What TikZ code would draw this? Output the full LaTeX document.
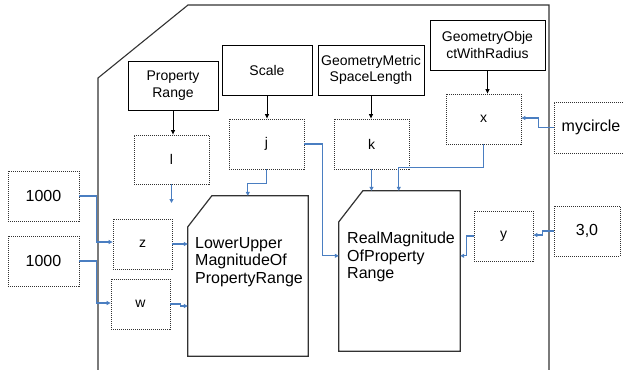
\documentclass[tikz,border=0pt]{standalone}
\usepackage{fontspec}
\setmainfont{Liberation Sans}
\usetikzlibrary{arrows.meta,calc}
\definecolor{linkblue}{RGB}{74,126,193}
\definecolor{darkline}{RGB}{50,50,50}
\begin{document}
\begin{tikzpicture}[x=1pt,y=-1pt,
  solidbox/.style={draw=black,line width=0.9pt,inner sep=0pt,align=center,font=\fontsize{14}{16.5}\selectfont},
  dotbox/.style={draw=darkline,line width=0.8pt,dash pattern=on 1pt off 1pt,inner sep=0pt,align=center,font=\fontsize{14}{16.5}\selectfont},
  bigtext/.style={font=\fontsize{16}{17.5}\selectfont},
  docshape/.style={draw=darkline,line width=1.2pt},
  outerline/.style={draw=darkline,line width=1.1pt},
  bl/.style={draw=linkblue,line width=1.1pt,-{Triangle[length=4pt,width=4pt]}},
  blk/.style={draw=black,line width=1pt,-{Triangle[length=4.5pt,width=4pt]}}]
\useasboundingbox (0,0) rectangle (623,369);
% outer frame
\draw[outerline] (98,375) -- (98,78) -- (188,5) -- (549,5) -- (549,375);
% solid boxes
\node[solidbox,minimum width=90pt,minimum height=49pt] (pr) at (173,85.5) {Property\\Range};
\node[solidbox,minimum width=90pt,minimum height=50pt] (sc) at (267,70) {Scale};
\node[solidbox,minimum width=106pt,minimum height=50pt] (gm) at (371,70) {GeometryMetric\\SpaceLength};
\node[solidbox,minimum width=115pt,minimum height=50pt] (go) at (487.5,45) {GeometryObje\\ctWithRadius};
% dotted boxes
\node[dotbox,minimum width=75pt,minimum height=49pt] (l) at (171.5,159.5) {l};
\node[dotbox,minimum width=75pt,minimum height=50pt] (j) at (266.5,144) {j};
\node[dotbox,minimum width=75pt,minimum height=50pt] (k) at (371.5,144) {k};
\node[dotbox,minimum width=75pt,minimum height=50pt] (xx) at (483.5,119) {x};
\node[dotbox,minimum width=74pt,minimum height=51pt,bigtext] (mc) at (591,127.5) {mycircle};
\node[dotbox,minimum width=71pt,minimum height=50pt,bigtext] (t1) at (43.5,196) {1000};
\node[dotbox,minimum width=71pt,minimum height=50pt,bigtext] (t2) at (43.5,261) {1000};
\node[dotbox,minimum width=59pt,minimum height=50pt] (z) at (142.5,244) {z};
\node[dotbox,minimum width=59pt,minimum height=50pt] (w) at (140.5,304) {w};
\node[dotbox,minimum width=59pt,minimum height=50pt] (yy) at (503.5,236) {y};
\node[dotbox,minimum width=66pt,minimum height=50pt,bigtext] (th) at (587,231) {3,0};
% document shapes
\node[minimum width=120pt,minimum height=160pt,inner sep=0pt] (lu) at (248,276) {};
\draw[docshape] ($(lu.north west)+(24,0)$) -- (lu.north east) -- (lu.south east) -- (lu.south west) -- ($(lu.north west)+(0,31)$) -- cycle;
\node[bigtext,anchor=north west,inner sep=0pt,align=left] (lut) at (195,237) {LowerUpper\\MagnitudeOf\\PropertyRange};
\node[minimum width=121pt,minimum height=160pt,inner sep=0pt] (rm) at (399.5,271) {};
\draw[docshape] ($(rm.north west)+(24,0)$) -- (rm.north east) -- (rm.south east) -- (rm.south west) -- ($(rm.north west)+(0,31)$) -- cycle;
\node[bigtext,anchor=north west,inner sep=0pt,align=left] (rmt) at (347,232) {RealMagnitude\\OfProperty\\Range};
% black arrows
\draw[blk] (pr.south) -- (pr.south |- l.north);
\draw[blk] (sc.south) -- (sc.south |- j.north);
\draw[blk] (gm.south) -- (gm.south |- k.north);
\draw[blk] (go.south) -- (go.south |- xx.north);
% blue connectors
\coordinate (lend) at (171.5,203);
\draw[bl] (l.south) -- (lend);
\draw[bl] (t1.east) -- ++(17,0) |- ($(z.west)+(0,-2)$);
\draw[bl] (t2.east) -- ++(17,0) |- ($(w.west)+(0,-1)$);
\draw[bl] (z.east) -- (z.east -| lu.west);
\draw[bl] (w.east) -- ++(10,0) |- ($(w.east -| lu.west)+(0,2)$);
\draw[bl] (j.south) -- ++(0,14) -| ($(lu.north west)+(60,0)$);
\draw[bl] (j.east) -- ++(18,0) |- ($(rm.north west)+(0,65)$);
\draw[bl] (k.south) -- (k.south |- rm.north);
\draw[bl] (xx.south) -- ++(0,23) -| ($(rm.north west)+(60,0)$);
\draw[bl] (mc.west) -- ++(-15,0) |- ($(xx.east)+(0,-1)$);
\draw[bl] (th.west) -- ++(-11,0) |- ($(yy.east)+(0,-1)$);
\draw[bl] (yy.west) -- ++(-7,0) |- ($(rm.north east)+(0,65)$);
\end{tikzpicture}
\end{document}
